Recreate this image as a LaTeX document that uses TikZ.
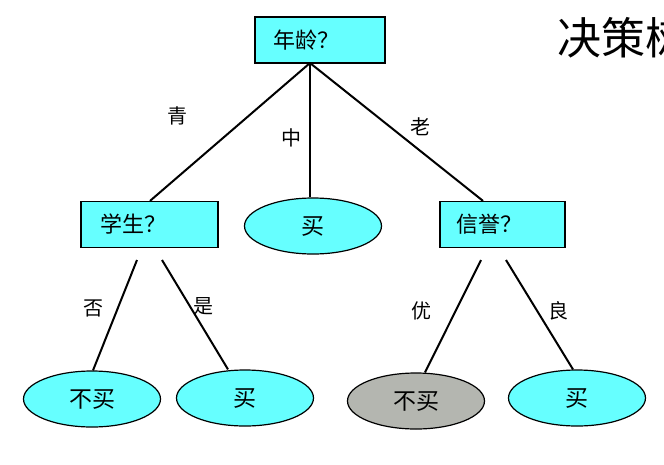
\documentclass[tikz,border=0pt]{standalone}
\usepackage{fontspec}
\usetikzlibrary{shapes.geometric}
\newfontfamily\cjk{Noto Sans CJK SC}
\definecolor{cyanfill}{HTML}{66FFFF}
\definecolor{grayfill}{HTML}{B4B6B0}
\begin{document}
\begin{tikzpicture}[x=1pt,y=-1pt,
  qbox/.style={draw=black,line width=1.2pt,fill=cyanfill,minimum width=134pt,minimum height=46pt,inner sep=0pt,font=\cjk\fontsize{22}{24}\selectfont},
  leaf/.style={draw=black,line width=1.2pt,fill=cyanfill,ellipse,minimum width=137pt,minimum height=56pt,inner sep=0pt,font=\cjk\fontsize{23}{25}\selectfont},
  conn/.style={line width=2pt,black},
  lab/.style={font=\cjk\fontsize{20}{22}\selectfont,inner sep=0pt}]
\useasboundingbox (0,0) rectangle (664,464);
\fill[white] (0,0) rectangle (664,464);
\node[qbox,minimum width=130pt] (age) at (320,40) {\hspace*{-28pt}年龄？};
\node[qbox,minimum width=137pt] (stu) at (149.5,224.5) {\hspace*{-32pt}学生？};
\node[qbox,minimum width=125pt] (cred) at (502.5,224.5) {\hspace*{-26pt}信誉？};
\node[leaf] (buy1) at (313,226) {买};
\node[leaf] (no1) at (92,399) {不买};
\node[leaf] (buy2) at (245,398) {买};
\node[leaf,fill=grayfill] (no2) at (416,401) {不买};
\node[leaf] (buy3) at (577,398) {买};
\node[font=\cjk\fontsize{44}{48}\selectfont,anchor=west,inner sep=0pt] (title) at (557,38) {决策树};
\coordinate (a0) at (310,63);
\draw[conn] (a0) -- (stu.north -| 150,0);
\draw[conn] (a0) -- (buy1.north -| 310,0);
\draw[conn] (a0) -- (cred.north -| 483,0);
\coordinate (s1) at (137,260);
\coordinate (s2) at (162,260);
\coordinate (c1) at (481,260);
\coordinate (c2) at (506,260);
\draw[conn] (s1) -- (no1.north -| 93,0);
\draw[conn] (s2) -- (buy2.north -| 228,0);
\draw[conn] (c1) -- (no2.north -| 425,0);
\draw[conn] (c2) -- (buy3.north -| 573,0);
\node[lab] (l1) at (177,116) {青};
\node[lab] (l2) at (291,138) {中};
\node[lab] (l3) at (420,127) {老};
\node[lab] (l4) at (93,308) {否};
\node[lab] (l5) at (203,306) {是};
\node[lab] (l6) at (421,311) {优};
\node[lab] (l7) at (558,311) {良};
\end{tikzpicture}
\end{document}
